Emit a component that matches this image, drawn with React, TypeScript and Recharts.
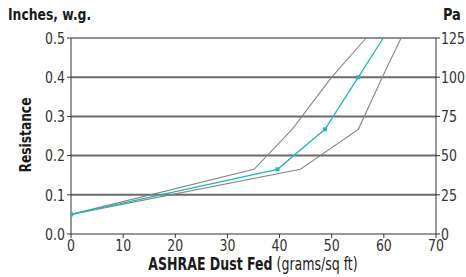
import { LineChart, Line, XAxis, YAxis, ReferenceLine } from "recharts";

// x = grams/sq ft of dust fed, y = resistance (in. w.g.)
const resistance = [0.05, 0.165, 0.267, 0.4, 0.5];
const dustTypical = [0, 39.6, 48.7, 55.1, 59.9];
const dustUpper = [0, 35.1, 42.4, 50.0, 56.6];
const dustLower = [0, 44.0, 55.1, 59.7, 63.3];

const xTicks = [0, 10, 20, 30, 40, 50, 60, 70];
const inchTicks = [0, 0.1, 0.2, 0.3, 0.4, 0.5];
const paTicks = [0, 25, 50, 75, 100, 125];
const gridLines = [0.1, 0.2, 0.3, 0.4];

const PA_PER_INCH = 250;

const toRows = (xs: number[]) => xs.map((x, i) => ({ x, y: resistance[i] }));
const paRows = dustTypical.map((x, i) => ({ x, pa: resistance[i] * PA_PER_INCH }));

const FONT = "'Liberation Sans Narrow', 'DejaVu Sans Condensed', 'Arial Narrow', sans-serif";
const CYAN = "#1db8bc";
const GRAY = "#858585";

const titleStyle = {
  position: "absolute" as const,
  fontWeight: "bold" as const,
  color: "#1a1a1a",
  whiteSpace: "nowrap" as const,
};

// DejaVu Condensed is still wider than the original's condensed face, squeeze it a bit
const CondTick = (props: any) => {
  const { x, y, payload, textAnchor, dy, fmt } = props;
  return (
    <g transform={`translate(${x},${y})`}>
      <text transform="scale(0.87,1)" textAnchor={textAnchor} dy={dy} fontSize={16} fill="#333" fontFamily={FONT}>
        {fmt ? fmt(payload.value) : payload.value}
      </text>
    </g>
  );
};

export default function App() {
  const last = resistance.length - 1;
  const dot = (p: any) =>
    p.index === last ? (
      <g key={`d${p.index}`} />
    ) : (
      <rect key={`d${p.index}`} x={p.cx - 2} y={p.cy - 2} width={4} height={4} fill={CYAN} />
    );

  return (
    <div style={{ position: "absolute", left: 0, top: 0, width: 466, height: 277, background: "#fff", fontFamily: FONT }}>
      <LineChart width={466} height={277} margin={{ top: 38, right: 0, left: 0, bottom: 0 }}>
        <XAxis
          type="number"
          dataKey="x"
          domain={[0, 70]}
          ticks={xTicks}
          interval={0}
          height={43}
          tick={(p: any) => <CondTick {...p} dy="0.71em" />}
          tickSize={4}
          stroke="#333"
          allowDataOverflow
        />
        <YAxis
          yAxisId="in"
          domain={[0, 0.5]}
          ticks={inchTicks}
          interval={0}
          width={71}
          tick={(p: any) => <CondTick {...p} dy="0.36em" fmt={(v: number) => v.toFixed(1)} />}
          tickSize={4}
          stroke="#333"
        />
        <YAxis
          yAxisId="pa"
          orientation="right"
          domain={[0, 125]}
          ticks={paTicks}
          interval={0}
          width={30}
          tick={(p: any) => <CondTick {...p} dy="0.36em" />}
          tickSize={4}
          tickMargin={1}
          stroke="#333"
        />
        {gridLines.map((v) => (
          <ReferenceLine key={v} yAxisId="in" y={v} stroke="#6a6a6a" strokeWidth={2} />
        ))}
        <ReferenceLine yAxisId="in" y={0.5} stroke="#222" strokeWidth={1.2} />
        <Line yAxisId="pa" data={paRows} dataKey="pa" stroke="none" dot={false} legendType="none" isAnimationActive={false} />
        <Line yAxisId="in" data={toRows(dustUpper)} dataKey="y" stroke={GRAY} strokeWidth={1.1} dot={false} isAnimationActive={false} />
        <Line yAxisId="in" data={toRows(dustLower)} dataKey="y" stroke={GRAY} strokeWidth={1.1} dot={false} isAnimationActive={false} />
        <Line yAxisId="in" data={toRows(dustTypical)} dataKey="y" stroke={CYAN} strokeWidth={1.3} dot={dot} isAnimationActive={false} />
      </LineChart>

      <div style={{ ...titleStyle, left: 8, top: 5, fontSize: 16, transform: "scaleX(0.86)", transformOrigin: "left" }}>
        Inches, w.g.
      </div>
      <div style={{ ...titleStyle, left: 443, top: 5, fontSize: 16, transform: "scaleX(0.9)", transformOrigin: "left" }}>
        Pa
      </div>
      <div
        style={{
          ...titleStyle,
          left: 25,
          top: 135,
          fontSize: 16,
          transform: "translate(-50%, -50%) rotate(-90deg) scaleX(0.85)",
        }}
      >
        Resistance
      </div>
      <div
        style={{
          position: "absolute",
          left: 253,
          top: 254,
          transform: "translateX(-50%) scaleX(0.82)",
          fontSize: 17,
          color: "#1a1a1a",
          whiteSpace: "nowrap",
        }}
      >
        <b>ASHRAE Dust Fed</b> (grams/sq ft)
      </div>
    </div>
  );
}
